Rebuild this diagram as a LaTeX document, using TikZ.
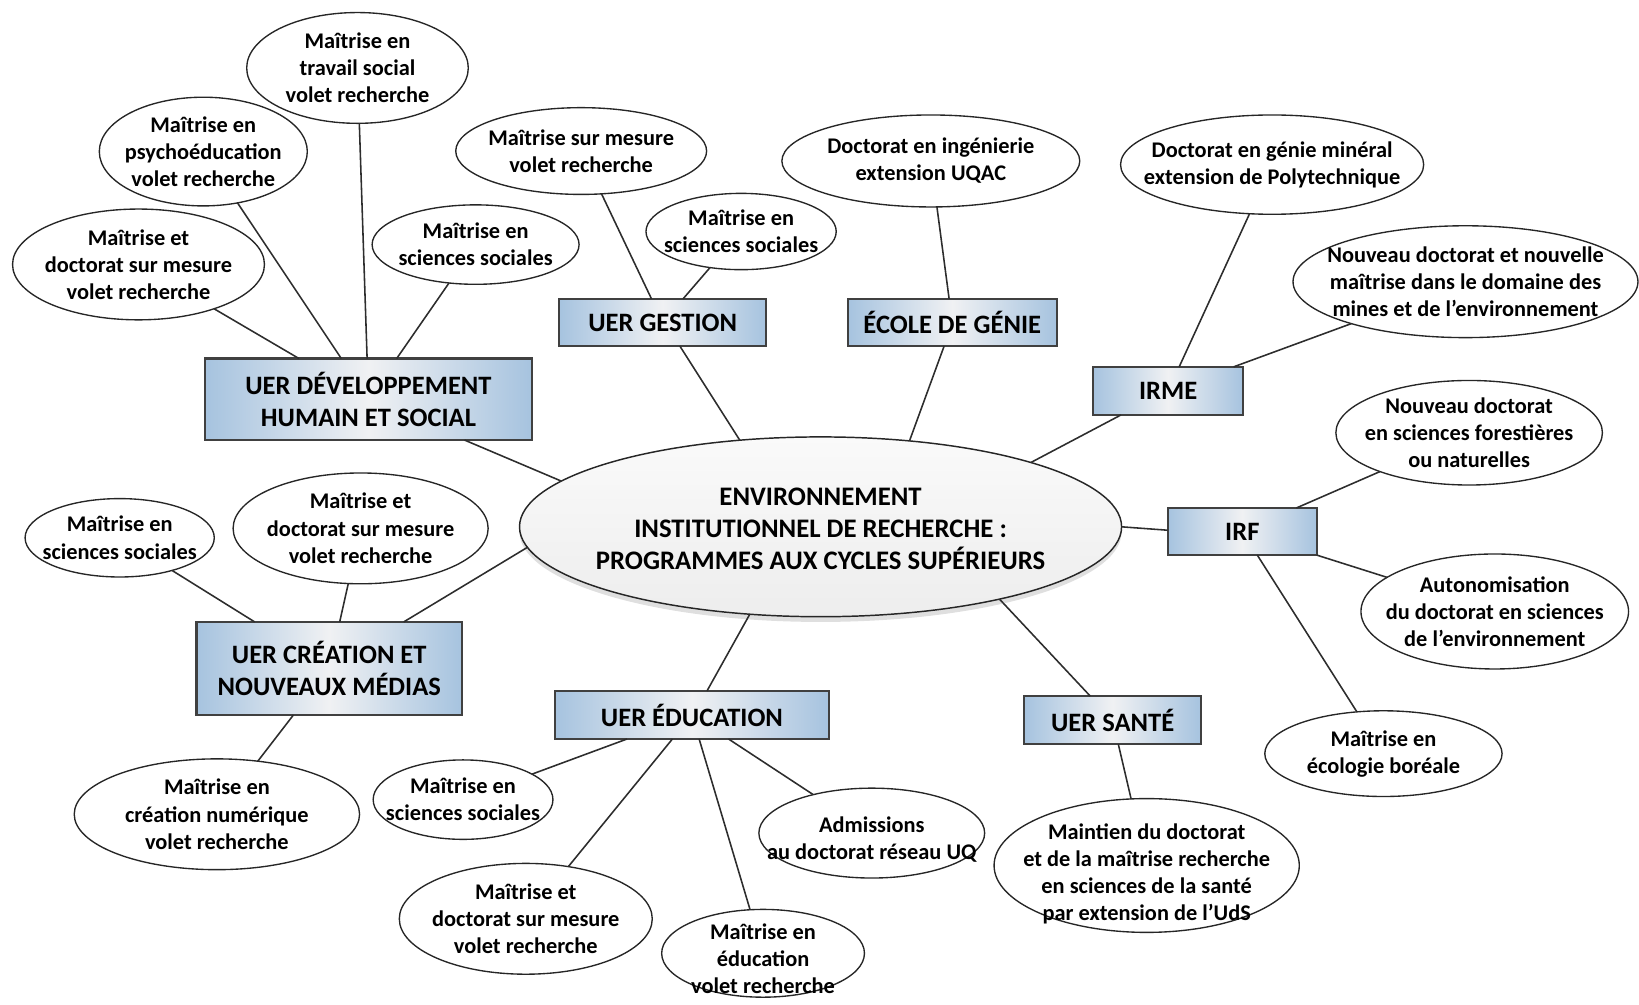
\documentclass[tikz,border=0pt]{standalone}
\usepackage{fontspec}
\setmainfont{Carlito}
\usetikzlibrary{shapes.geometric,shadows}
\definecolor{boxedge}{RGB}{166,195,223}
\definecolor{boxmid}{RGB}{240,241,243}
\definecolor{boxline}{RGB}{64,64,64}
\definecolor{linkc}{RGB}{45,45,45}
\tikzset{
  leaf/.style={ellipse, draw=black!85, line width=0.65pt, fill=white,
    align=center, inner xsep=-60pt, inner ysep=-40pt, outer sep=0pt,
    font=\bfseries\fontsize{10.7}{13}\selectfont},
  unit/.style={rectangle, draw=boxline, line width=1pt, left color=boxedge,
    right color=boxedge, middle color=boxmid, align=center, inner sep=0pt,
    outer sep=0pt, font=\bfseries\fontsize{12.7}{15}\selectfont},
  hub/.style={ellipse, draw=black!85, line width=0.7pt, top color=gray!4,
    bottom color=gray!14, align=center, inner xsep=-80pt, inner ysep=-40pt,
    outer sep=0pt, drop shadow={shadow xshift=0pt, shadow yshift=-2.5pt, opacity=0.25},
    font=\bfseries\fontsize{12.8}{15.3}\selectfont},
  link/.style={draw=linkc, line width=0.75pt}
}
\begin{document}
\begin{tikzpicture}[x=0.5pt,y=-0.5pt]
\useasboundingbox (0,0) rectangle (1568,961);

% hub
\node[hub, minimum width=288pt, minimum height=86pt] (C) at (785,504)
  {\rule{0pt}{10.5pt}ENVIRONNEMENT\\INSTITUTIONNEL DE RECHERCHE :\\PROGRAMMES AUX CYCLES SUPÉRIEURS};

% units
\node[unit, minimum width=156.5pt, minimum height=39pt] (dhs) at (352.5,382) {UER DÉVELOPPEMENT\\HUMAIN ET SOCIAL};
\node[unit, minimum width=99pt, minimum height=22.5pt] (ges) at (634,308.5) {UER GESTION};
\node[unit, minimum width=100pt, minimum height=22.5pt] (gen) at (911,308.5) {ÉCOLE DE GÉNIE};
\node[unit, minimum width=71.5pt, minimum height=23pt] (irme) at (1117.5,374) {IRME};
\node[unit, minimum width=71.5pt, minimum height=22.5pt] (irf) at (1188.5,508.5) {IRF};
\node[unit, minimum width=84.5pt, minimum height=23pt] (san) at (1064.5,689) {UER SANTÉ};
\node[unit, minimum width=131pt, minimum height=23pt] (edu) at (662,684) {UER ÉDUCATION};
\node[unit, minimum width=127pt, minimum height=44.5pt] (cre) at (315,639.5) {UER CRÉATION ET\\NOUVEAUX MÉDIAS};

% leaves
\node[leaf, minimum width=106pt, minimum height=53pt] (ts) at (342,65) {Maîtrise en\\travail social\\volet recherche};
\node[leaf, minimum width=99.5pt, minimum height=52pt] (psy) at (194.5,145) {Maîtrise en\\psychoéducation\\volet recherche};
\node[leaf, minimum width=120.5pt, minimum height=53pt] (dsma) at (132.5,253) {Maîtrise et\\doctorat sur mesure\\volet recherche};
\node[leaf, minimum width=99pt, minimum height=38pt] (ssa) at (455,234) {Maîtrise en\\sciences sociales};
\node[leaf, minimum width=120pt, minimum height=41.5pt] (msm) at (556,144.5) {Maîtrise sur mesure\\volet recherche};
\node[leaf, minimum width=91pt, minimum height=36.5pt] (ssb) at (709,221.5) {Maîtrise en\\sciences sociales};
\node[leaf, minimum width=142.5pt, minimum height=44pt] (ing) at (890.5,154) {Doctorat en ingénierie\\extension UQAC};
\node[leaf, minimum width=145pt, minimum height=47.5pt] (mine) at (1217,157.5) {Doctorat en génie minéral\\extension de Polytechnique};
\node[leaf, minimum width=165pt, minimum height=53.5pt] (mines) at (1402,269.5) {Nouveau doctorat et nouvelle\\maîtrise dans le domaine des\\mines et de l’environnement};
\node[leaf, minimum width=127.5pt, minimum height=50pt] (for) at (1405.5,414) {Nouveau doctorat\\en sciences forestières\\ou naturelles};
\node[leaf, minimum width=128pt, minimum height=55pt] (env) at (1430,585) {Autonomisation\\du doctorat en sciences\\de l’environnement};
\node[leaf, minimum width=113.5pt, minimum height=41pt] (bor) at (1323.5,721) {Maîtrise en\\écologie boréale};
\node[leaf, minimum width=146pt, minimum height=64pt] (uds) at (1097,828) {\rule{0pt}{15.5pt}Maintien du doctorat\\et de la maîtrise recherche\\en sciences de la santé\\par extension de l’UdS};
\node[leaf, minimum width=108pt, minimum height=43pt] (uq) at (834,797) {\rule{0pt}{13.5pt}Admissions\\au doctorat réseau UQ};
\node[leaf, minimum width=97pt, minimum height=42pt] (edv) at (730,912) {\rule{0pt}{12.5pt}Maîtrise en\\éducation\\volet recherche};
\node[leaf, minimum width=121pt, minimum height=53pt] (dsmb) at (503,879) {Maîtrise et\\doctorat sur mesure\\volet recherche};
\node[leaf, minimum width=86pt, minimum height=38pt] (ssc) at (443,765) {Maîtrise en\\sciences sociales};
\node[leaf, minimum width=136.5pt, minimum height=53pt] (crn) at (207.5,779) {Maîtrise en\\création numérique\\volet recherche};
\node[leaf, minimum width=90.5pt, minimum height=37.5pt] (ssd) at (114.5,514.5) {Maîtrise en\\sciences sociales};
\node[leaf, minimum width=122pt, minimum height=53pt] (dsmc) at (345,505.5) {Maîtrise et\\doctorat sur mesure\\volet recherche};

% hub links
\draw[link] (dhs.-23.1) -- (C.170.6);
\draw[link] (ges.-54.6) -- (C.133.6);
\draw[link] (gen.-109.6) -- (C.44.35);
\draw[link] (irme.207.3) -- (C.17.3);
\draw[link] (irf.179) -- (C.0);
\draw[link] (san.133.1) -- (C.-22.6);
\draw[link] (edu.58.7) -- (C.-129.4);
\draw[link] (cre.32.1) -- (C.-176.6);

% leaf links
\draw[link] (dhs) -- (ts);
\draw[link] (dhs) -- (psy);
\draw[link] (dhs) -- (dsma);
\draw[link] (dhs) -- (ssa);
\draw[link] (ges) -- (msm);
\draw[link] (ges) -- (ssb);
\draw[link] (gen) -- (ing);
\draw[link] (irme) -- (mine);
\draw[link] (irme) -- (mines);
\draw[link] (irf) -- (for);
\draw[link] (irf) -- (env);
\draw[link] (irf) -- (bor);
\draw[link] (san) -- (uds);
\draw[link] (edu) -- (uq);
\draw[link] (edu) -- (edv);
\draw[link] (edu) -- (dsmb);
\draw[link] (edu) -- (ssc);
\draw[link] (cre) -- (crn);
\draw[link] (cre) -- (ssd);
\draw[link] (cre) -- (dsmc);
\end{tikzpicture}
\end{document}
